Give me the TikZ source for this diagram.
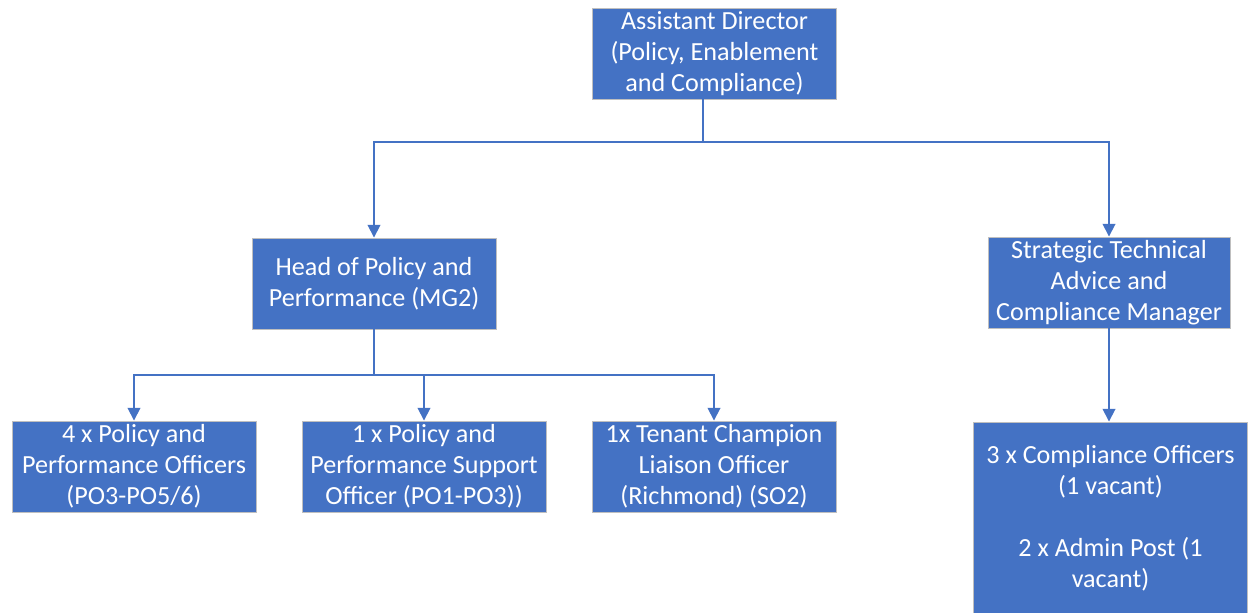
\documentclass[tikz,border=0pt]{standalone}
\usepackage{fontspec}
\setmainfont{Carlito}
\usetikzlibrary{arrows.meta}
\definecolor{boxblue}{HTML}{4472C4}
\definecolor{boxedge}{HTML}{BFBFBF}
\tikzset{
  orgbox/.style={fill=boxblue, draw=boxedge, line width=0.7pt, text=white, align=center,
    inner sep=0pt, minimum width=183pt, minimum height=68.25pt,
    font=\fontsize{19.6pt}{23.25pt}\selectfont},
  link/.style={draw=boxblue, line width=1.3pt},
  arr/.style={link, -{Triangle[width=9.5pt,length=9.5pt]}}
}
\begin{document}
\begin{tikzpicture}[x=0.75pt,y=-0.75pt]
\useasboundingbox (0,0) rectangle (1254,612);
\node[orgbox] (top) at (714.5,53.5) {Assistant Director\\(Policy, Enablement\\and Compliance)};
\node[orgbox] (head) at (374,283.5) {Head of Policy and\\Performance (MG2)};
\node[orgbox, minimum width=181.5pt] (strat) at (1109,282.5) {Strategic Technical\\Advice and\\Compliance Manager};
\node[orgbox] (o1) at (134,466.5) {4 x Policy and\\Performance Officers\\(PO3-PO5/6)};
\node[orgbox] (o2) at (424,466.5) {1 x Policy and\\Performance Support\\Officer (PO1-PO3))};
\node[orgbox] (o3) at (714,466.5) {1x Tenant Champion\\Liaison Officer\\(Richmond) (SO2)};
\node[orgbox, minimum width=206pt, minimum height=144pt] (comp) at (1110.5,518) {3 x Compliance Officers\\(1 vacant)\\[23.25pt]2 x Admin Post (1\\vacant)};
\coordinate (j1) at (703,142);
\coordinate (j2) at (374,375);
\draw[link] (top.south -| j1) -- (j1);
\draw[arr] (j1) -| (head.north);
\draw[arr] (j1) -| (strat.north);
\draw[link] (head.south) -- (j2);
\draw[arr] (j2) -| (o1.north);
\draw[arr] (j2) -| (o2.north);
\draw[arr] (j2) -| (o3.north);
\draw[arr] (strat.south) -- (strat.south |- comp.north);
\end{tikzpicture}
\end{document}
